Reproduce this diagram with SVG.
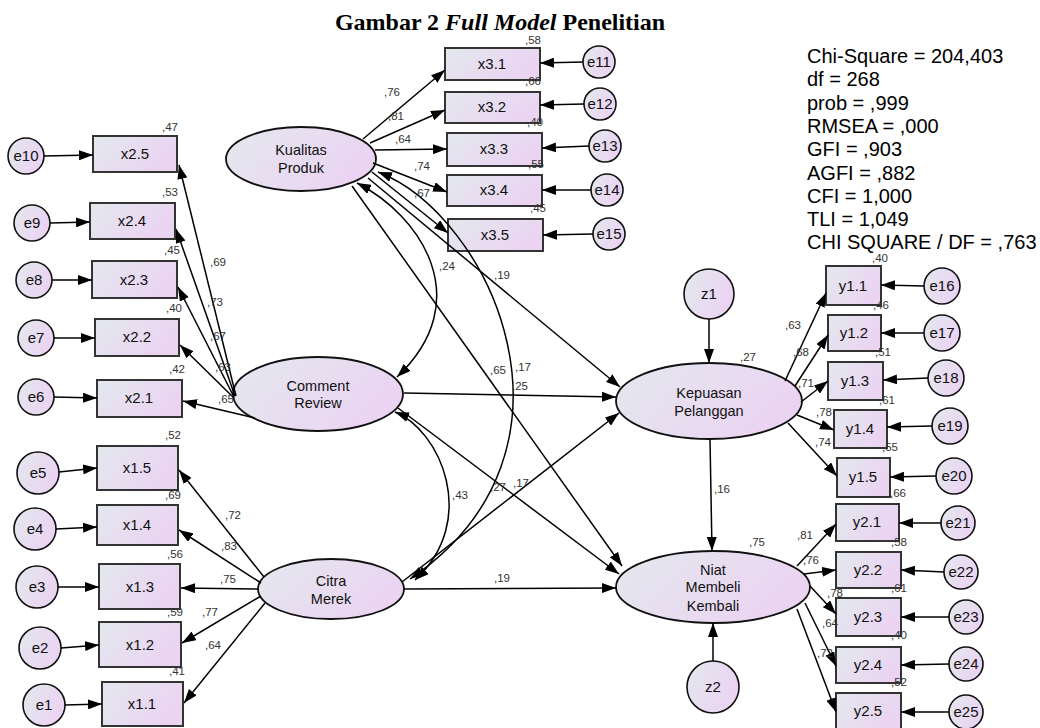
<svg xmlns="http://www.w3.org/2000/svg" width="1040" height="728" viewBox="0 0 1040 728">
<defs>
<linearGradient id="g" x1="0" y1="0" x2="1" y2="0.4">
<stop offset="0" stop-color="#e3e8ee"/>
<stop offset="1" stop-color="#ebd4f2"/>
</linearGradient>
<marker id="ah" viewBox="0 0 14 10" refX="14" refY="5" markerWidth="14" markerHeight="10" markerUnits="userSpaceOnUse" orient="auto-start-reverse">
<path d="M0,0 L14,5 L0,10 z" fill="#000"/>
</marker>
<style>
text{font-family:"Liberation Sans",Arial,sans-serif;}
.box{fill:url(#g);stroke:#333;stroke-width:2;}
.ell{fill:url(#g);stroke:#111;stroke-width:1.8;}
.cir{fill:url(#g);stroke:#111;stroke-width:1.6;}
.nt{font-size:15px;text-anchor:middle;fill:#111;}
.et{font-size:14.5px;text-anchor:middle;fill:#111;}
.lb{font-size:11.5px;text-anchor:middle;fill:#333;}
.st{font-size:20px;fill:#000;}
.ttl{font-family:"Liberation Serif","Times New Roman",serif;font-size:24px;font-weight:bold;text-anchor:middle;}
#conn line,#conn path{stroke:#000;stroke-width:1.5;fill:none;marker-end:url(#ah);}
#conn .bi{marker-start:url(#ah);}
</style>
</defs>
<rect width="1040" height="728" fill="#fff"/>

<text class="ttl" x="500" y="30">Gambar 2 <tspan font-style="italic">Full Model</tspan> Penelitian</text>

<g id="stats">
<text class="st" x="807" y="63">Chi-Square = 204,403</text>
<text class="st" x="807" y="86.3">df = 268</text>
<text class="st" x="807" y="109.6">prob = ,999</text>
<text class="st" x="807" y="132.9">RMSEA = ,000</text>
<text class="st" x="807" y="156.2">GFI = ,903</text>
<text class="st" x="807" y="179.5">AGFI = ,882</text>
<text class="st" x="807" y="202.8">CFI = 1,000</text>
<text class="st" x="807" y="226.1">TLI = 1,049</text>
<text class="st" x="807" y="249.4">CHI SQUARE / DF = ,763</text>
</g>

<!-- latent nodes -->
<g id="kualitas"><ellipse class="ell" cx="301" cy="159" rx="75" ry="32"/><text class="et" x="301" y="155">Kualitas</text><text class="et" x="301" y="173">Produk</text></g>
<g id="comment"><ellipse class="ell" cx="318" cy="394" rx="85" ry="37"/><text class="et" x="318" y="391">Comment</text><text class="et" x="318" y="408">Review</text></g>
<g id="citra"><ellipse class="ell" cx="331" cy="589" rx="73" ry="30"/><text class="et" x="331" y="586">Citra</text><text class="et" x="331" y="604">Merek</text></g>
<g id="kepuasan"><ellipse class="ell" cx="709" cy="401" rx="93" ry="38"/><text class="et" x="709" y="398">Kepuasan</text><text class="et" x="709" y="416">Pelanggan</text></g>
<g id="niat"><ellipse class="ell" cx="713" cy="587" rx="97" ry="36"/><text class="et" x="713" y="575">Niat</text><text class="et" x="713" y="592">Membeli</text><text class="et" x="713" y="611">Kembali</text></g>
<g id="z1"><circle class="cir" cx="709" cy="294" r="25"/><text class="nt" x="709" y="299">z1</text></g>
<g id="z2"><circle class="cir" cx="713" cy="687" r="26"/><text class="nt" x="713" y="692">z2</text></g>

<!-- indicator boxes -->
<g id="x3.1"><rect class="box" x="445" y="48" width="95" height="32"/><text class="nt" x="492" y="69">x3.1</text></g>
<g id="x3.2"><rect class="box" x="445" y="92" width="95" height="31"/><text class="nt" x="492" y="112">x3.2</text></g>
<g id="x3.3"><rect class="box" x="447" y="133" width="95" height="33"/><text class="nt" x="494" y="154">x3.3</text></g>
<g id="x3.4"><rect class="box" x="447" y="175" width="95" height="31"/><text class="nt" x="494" y="195">x3.4</text></g>
<g id="x3.5"><rect class="box" x="448" y="219" width="95" height="32"/><text class="nt" x="495" y="240">x3.5</text></g>

<g id="x2.5"><rect class="box" x="93" y="136" width="84" height="36"/><text class="nt" x="135" y="159">x2.5</text></g>
<g id="x2.4"><rect class="box" x="90" y="203" width="85" height="36"/><text class="nt" x="132" y="226">x2.4</text></g>
<g id="x2.3"><rect class="box" x="92" y="261" width="85" height="37"/><text class="nt" x="134" y="285">x2.3</text></g>
<g id="x2.2"><rect class="box" x="95" y="319" width="84" height="37"/><text class="nt" x="137" y="342">x2.2</text></g>
<g id="x2.1"><rect class="box" x="97" y="380" width="85" height="37"/><text class="nt" x="139" y="403">x2.1</text></g>

<g id="x1.5"><rect class="box" x="97" y="446" width="81" height="44"/><text class="nt" x="137" y="473">x1.5</text></g>
<g id="x1.4"><rect class="box" x="97" y="505" width="81" height="40"/><text class="nt" x="137" y="530">x1.4</text></g>
<g id="x1.3"><rect class="box" x="99" y="564" width="81" height="45"/><text class="nt" x="140" y="592">x1.3</text></g>
<g id="x1.2"><rect class="box" x="99" y="622" width="82" height="45"/><text class="nt" x="140" y="650">x1.2</text></g>
<g id="x1.1"><rect class="box" x="102" y="682" width="81" height="44"/><text class="nt" x="142" y="709">x1.1</text></g>

<g id="y1.1"><rect class="box" x="826" y="266" width="55" height="39"/><text class="nt" x="853" y="291">y1.1</text></g>
<g id="y1.2"><rect class="box" x="828" y="315" width="53" height="36"/><text class="nt" x="854" y="338">y1.2</text></g>
<g id="y1.3"><rect class="box" x="828" y="362" width="55" height="38"/><text class="nt" x="855" y="386">y1.3</text></g>
<g id="y1.4"><rect class="box" x="834" y="410" width="53" height="38"/><text class="nt" x="860" y="434">y1.4</text></g>
<g id="y1.5"><rect class="box" x="837" y="458" width="53" height="39"/><text class="nt" x="863" y="482">y1.5</text></g>

<g id="y2.1"><rect class="box" x="836" y="504" width="63" height="37"/><text class="nt" x="867" y="527">y2.1</text></g>
<g id="y2.2"><rect class="box" x="836" y="552" width="65" height="36"/><text class="nt" x="868" y="575">y2.2</text></g>
<g id="y2.3"><rect class="box" x="836" y="598" width="65" height="38"/><text class="nt" x="868" y="622">y2.3</text></g>
<g id="y2.4"><rect class="box" x="836" y="647" width="65" height="36"/><text class="nt" x="868" y="670">y2.4</text></g>
<g id="y2.5"><rect class="box" x="836" y="693" width="65" height="36"/><text class="nt" x="868" y="716">y2.5</text></g>

<!-- error circles -->
<g id="e10"><circle class="cir" cx="26" cy="156" r="18"/><text class="nt" x="26" y="161">e10</text></g>
<g id="e9"><circle class="cir" cx="32" cy="223" r="18"/><text class="nt" x="32" y="228">e9</text></g>
<g id="e8"><circle class="cir" cx="34" cy="280" r="18"/><text class="nt" x="34" y="285">e8</text></g>
<g id="e7"><circle class="cir" cx="36" cy="338" r="18"/><text class="nt" x="36" y="343">e7</text></g>
<g id="e6"><circle class="cir" cx="36" cy="397" r="18"/><text class="nt" x="36" y="402">e6</text></g>
<g id="e5"><circle class="cir" cx="38" cy="473" r="21"/><text class="nt" x="38" y="478">e5</text></g>
<g id="e4"><circle class="cir" cx="35" cy="529" r="21"/><text class="nt" x="35" y="534">e4</text></g>
<g id="e3"><circle class="cir" cx="37" cy="587" r="21"/><text class="nt" x="37" y="592">e3</text></g>
<g id="e2"><circle class="cir" cx="40" cy="648" r="21"/><text class="nt" x="40" y="653">e2</text></g>
<g id="e1"><circle class="cir" cx="44" cy="705" r="21"/><text class="nt" x="44" y="710">e1</text></g>

<g id="e11"><circle class="cir" cx="599" cy="62" r="16"/><text class="nt" x="599" y="67">e11</text></g>
<g id="e12"><circle class="cir" cx="600" cy="104" r="16"/><text class="nt" x="600" y="109">e12</text></g>
<g id="e13"><circle class="cir" cx="605" cy="146" r="16"/><text class="nt" x="605" y="151">e13</text></g>
<g id="e14"><circle class="cir" cx="607" cy="190" r="16"/><text class="nt" x="607" y="195">e14</text></g>
<g id="e15"><circle class="cir" cx="609" cy="234" r="16"/><text class="nt" x="609" y="239">e15</text></g>
<g id="e16"><circle class="cir" cx="942" cy="286" r="18"/><text class="nt" x="942" y="291">e16</text></g>
<g id="e17"><circle class="cir" cx="942" cy="333" r="18"/><text class="nt" x="942" y="338">e17</text></g>
<g id="e18"><circle class="cir" cx="946" cy="378" r="18"/><text class="nt" x="946" y="383">e18</text></g>
<g id="e19"><circle class="cir" cx="950" cy="426" r="18"/><text class="nt" x="950" y="431">e19</text></g>
<g id="e20"><circle class="cir" cx="954" cy="476" r="18"/><text class="nt" x="954" y="481">e20</text></g>
<g id="e21"><circle class="cir" cx="958" cy="523" r="17"/><text class="nt" x="958" y="528">e21</text></g>
<g id="e22"><circle class="cir" cx="961" cy="572" r="17"/><text class="nt" x="961" y="577">e22</text></g>
<g id="e23"><circle class="cir" cx="966" cy="617" r="17"/><text class="nt" x="966" y="622">e23</text></g>
<g id="e24"><circle class="cir" cx="966" cy="664" r="17"/><text class="nt" x="966" y="669">e24</text></g>
<g id="e25"><circle class="cir" cx="966" cy="712" r="17"/><text class="nt" x="966" y="717">e25</text></g>

<g id="conn">
<!-- errors to indicators -->
<line x1="44" y1="156" x2="93" y2="155"/>
<line x1="50" y1="223" x2="90" y2="222"/>
<line x1="52" y1="280" x2="92" y2="280"/>
<line x1="54" y1="338" x2="95" y2="338"/>
<line x1="54" y1="397" x2="97" y2="398"/>
<line x1="59" y1="472" x2="97" y2="468"/>
<line x1="56" y1="529" x2="97" y2="527"/>
<line x1="58" y1="587" x2="99" y2="587"/>
<line x1="61" y1="648" x2="99" y2="645"/>
<line x1="65" y1="705" x2="102" y2="704"/>
<line x1="583" y1="62" x2="540" y2="63"/>
<line x1="584" y1="104" x2="540" y2="105"/>
<line x1="589" y1="146" x2="542" y2="148"/>
<line x1="591" y1="190" x2="542" y2="190"/>
<line x1="593" y1="234" x2="543" y2="235"/>
<line x1="924" y1="286" x2="881" y2="285"/>
<line x1="924" y1="333" x2="881" y2="333"/>
<line x1="928" y1="378" x2="883" y2="380"/>
<line x1="932" y1="426" x2="887" y2="427"/>
<line x1="936" y1="476" x2="890" y2="477"/>
<line x1="941" y1="523" x2="899" y2="523"/>
<line x1="944" y1="572" x2="901" y2="570"/>
<line x1="949" y1="617" x2="901" y2="617"/>
<line x1="949" y1="664" x2="901" y2="665"/>
<line x1="949" y1="712" x2="901" y2="712"/>
<!-- Kualitas Produk loadings -->
<line x1="363" y1="139" x2="445" y2="70"/>
<line x1="370" y1="143" x2="445" y2="110"/>
<line x1="375" y1="150" x2="447" y2="149"/>
<line x1="373" y1="163" x2="447" y2="192"/>
<line x1="372" y1="172" x2="448" y2="233"/>
<!-- Comment Review loadings -->
<line x1="236" y1="396" x2="179" y2="165"/>
<line x1="235" y1="396" x2="176" y2="229"/>
<line x1="234" y1="397" x2="178" y2="287"/>
<line x1="234" y1="398" x2="180" y2="345"/>
<line x1="255" y1="418" x2="183" y2="401"/>
<!-- Citra Merek loadings -->
<line x1="264" y1="577" x2="179" y2="470"/>
<line x1="261" y1="583" x2="179" y2="530"/>
<line x1="258" y1="589" x2="181" y2="588"/>
<line x1="261" y1="596" x2="182" y2="643"/>
<line x1="265" y1="603" x2="184" y2="703"/>
<!-- Kepuasan loadings -->
<line x1="785" y1="381" x2="826" y2="293"/>
<line x1="795" y1="386" x2="828" y2="335"/>
<line x1="801" y1="402" x2="828" y2="381"/>
<line x1="797" y1="415" x2="834" y2="430"/>
<line x1="788" y1="423" x2="837" y2="476"/>
<!-- Niat loadings -->
<line x1="797" y1="566" x2="836" y2="524"/>
<line x1="804" y1="574" x2="836" y2="570"/>
<line x1="810" y1="586" x2="836" y2="614"/>
<line x1="805" y1="603" x2="836" y2="666"/>
<line x1="797" y1="609" x2="836" y2="712"/>
<!-- disturbances and structural -->
<line x1="709" y1="319" x2="709" y2="363"/>
<line x1="713" y1="661" x2="713" y2="623"/>
<line x1="710" y1="439" x2="712" y2="551"/>
<line x1="368" y1="178" x2="620" y2="387"/>
<line x1="352" y1="186" x2="622" y2="566"/>
<line x1="404" y1="393" x2="616" y2="397"/>
<line x1="398" y1="408" x2="619" y2="574"/>
<line x1="402" y1="582" x2="619" y2="413"/>
<line x1="404" y1="589" x2="616" y2="588"/>
<!-- correlations -->
<path class="bi" d="M357,183 C420,215 478,300 397,377"/>
<path class="bi" d="M378,172 C490,215 600,450 410,579"/>
<path class="bi" d="M395,412 C440,430 480,520 415,580"/>
</g>

<g id="labels">
<text class="lb" x="533" y="44">,58</text>
<text class="lb" x="533" y="85">,66</text>
<text class="lb" x="535" y="126">,40</text>
<text class="lb" x="536" y="168">,55</text>
<text class="lb" x="538" y="212">,45</text>
<text class="lb" x="392" y="96">,76</text>
<text class="lb" x="396" y="120">,81</text>
<text class="lb" x="403" y="143">,64</text>
<text class="lb" x="422" y="170">,74</text>
<text class="lb" x="422" y="197">,67</text>

<text class="lb" x="170" y="131">,47</text>
<text class="lb" x="170" y="196">,53</text>
<text class="lb" x="172" y="254">,45</text>
<text class="lb" x="174" y="312">,40</text>
<text class="lb" x="177" y="373">,42</text>
<text class="lb" x="218" y="266">,69</text>
<text class="lb" x="215" y="306">,73</text>
<text class="lb" x="218" y="340">,67</text>
<text class="lb" x="223" y="371">,63</text>
<text class="lb" x="226" y="403">,65</text>

<text class="lb" x="173" y="439">,52</text>
<text class="lb" x="173" y="499">,69</text>
<text class="lb" x="175" y="558">,56</text>
<text class="lb" x="175" y="616">,59</text>
<text class="lb" x="177" y="675">,41</text>
<text class="lb" x="233" y="519">,72</text>
<text class="lb" x="229" y="550">,83</text>
<text class="lb" x="228" y="583">,75</text>
<text class="lb" x="210" y="616">,77</text>
<text class="lb" x="213" y="649">,64</text>

<text class="lb" x="793" y="329">,63</text>
<text class="lb" x="801" y="356">,68</text>
<text class="lb" x="806" y="387">,71</text>
<text class="lb" x="824" y="416">,78</text>
<text class="lb" x="823" y="446">,74</text>
<text class="lb" x="880" y="262">,40</text>
<text class="lb" x="881" y="309">,46</text>
<text class="lb" x="883" y="356">,51</text>
<text class="lb" x="887" y="404">,61</text>
<text class="lb" x="890" y="451">,55</text>

<text class="lb" x="805" y="539">,81</text>
<text class="lb" x="811" y="564">,76</text>
<text class="lb" x="835" y="597">,78</text>
<text class="lb" x="830" y="627">,64</text>
<text class="lb" x="825" y="657">,72</text>
<text class="lb" x="898" y="497">,66</text>
<text class="lb" x="899" y="546">,58</text>
<text class="lb" x="899" y="592">,61</text>
<text class="lb" x="899" y="639">,40</text>
<text class="lb" x="899" y="686">,52</text>

<text class="lb" x="748" y="361">,27</text>
<text class="lb" x="757" y="546">,75</text>
<text class="lb" x="722" y="493">,16</text>
<text class="lb" x="447" y="270">,24</text>
<text class="lb" x="502" y="279">,19</text>
<text class="lb" x="498" y="374">,65</text>
<text class="lb" x="523" y="371">,17</text>
<text class="lb" x="520" y="390">,25</text>
<text class="lb" x="498" y="491">,27</text>
<text class="lb" x="521" y="487">,17</text>
<text class="lb" x="502" y="582">,19</text>
<text class="lb" x="460" y="499">,43</text>
</g>
</svg>
